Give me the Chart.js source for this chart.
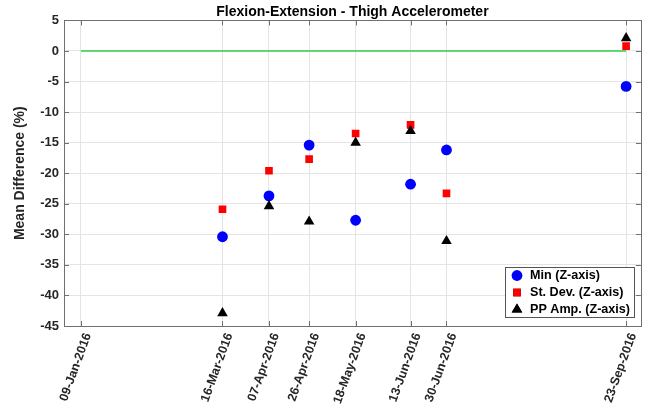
<!DOCTYPE html>
<html>
<head>
<meta charset="utf-8">
<script src="https://cdn.jsdelivr.net/npm/chart.js@4.4.1/dist/chart.umd.min.js"></script>
<style>
  html, body { margin: 0; padding: 0; background: #fff; }
  #wrap { width: 647px; height: 406px; }
</style>
</head>
<body>
<div id="wrap"><canvas id="c" width="647" height="406"></canvas></div>
<script>
// Measurement sessions, as days since 01-Jan-2016
const sessionDays = [75, 97, 116, 138, 164, 181, 266];
// Date ticks on the x axis (day offsets and their labels)
const tickDays = [8, 75, 97, 116, 138, 164, 181, 266];
const tickLabels = ['09-Jan-2016', '16-Mar-2016', '07-Apr-2016', '26-Apr-2016',
                    '18-May-2016', '13-Jun-2016', '30-Jun-2016', '23-Sep-2016'];
// Mean difference (%) per session
const minZ = [-30.4, -23.7, -15.4, -27.7, -21.8, -16.2, -5.8];
const stdZ = [-25.9, -19.6, -17.7, -13.5, -12.1, -23.3, 0.8];
const ppZ  = [-42.9, -25.4, -27.9, -15.0, -13.1, -31.1, 2.1];
// Zero reference line from the baseline date to the last session
const refDays = [8, 266];
const refValues = [0, 0];
const seriesNames = ['Min (Z-axis)', 'St. Dev. (Z-axis)', 'PP Amp. (Z-axis)'];

const FONT = '"Liberation Sans", Arial, Helvetica, sans-serif';
const pts = (xs, ys) => xs.map((d, i) => ({ x: d, y: ys[i] }));

// Box around the axes with inward tick marks on all four sides
const framePlugin = {
  id: 'frame',
  beforeDatasetsDraw(chart) {
    const { ctx, chartArea: a, scales: { x, y } } = chart;
    const L = 5;
    ctx.save();
    ctx.strokeStyle = '#707070';
    ctx.lineWidth = 1;
    ctx.beginPath();
    x.ticks.forEach(t => {
      const px = Math.round(x.getPixelForValue(t.value)) + 0.5;
      ctx.moveTo(px, a.bottom); ctx.lineTo(px, a.bottom - L);
      ctx.moveTo(px, a.top); ctx.lineTo(px, a.top + L);
    });
    y.ticks.forEach(t => {
      const py = Math.round(y.getPixelForValue(t.value)) + 0.5;
      ctx.moveTo(a.left, py); ctx.lineTo(a.left + L, py);
      ctx.moveTo(a.right, py); ctx.lineTo(a.right - L, py);
    });
    ctx.stroke();
    ctx.strokeRect(Math.round(a.left) + 0.5, Math.round(a.top) + 0.5,
                   Math.round(a.right - a.left), Math.round(a.bottom - a.top));
    ctx.restore();
  }
};

// Center the title over the plotting area rather than the whole canvas
const titleCenterPlugin = {
  id: 'titleCenter',
  afterLayout(chart) {
    if (chart.titleBlock) {
      chart.titleBlock.left = chart.chartArea.left;
      chart.titleBlock.right = chart.chartArea.right;
    }
  }
};

// Boxed legend in the lower-right corner of the plotting area
const boxLegendPlugin = {
  id: 'boxLegend',
  afterDraw(chart) {
    const { ctx, chartArea: a } = chart;
    const sets = chart.data.datasets.slice(0, 3);
    ctx.save();
    ctx.font = 'bold 12.6px ' + FONT;
    const textW = Math.max(...sets.map(s => ctx.measureText(s.label).width));
    const rowH = 17, padL = 6, markW = 12, gap = 7, padR = 4;
    const w = padL + markW + gap + textW + padR;
    const h = rowH * sets.length - 1;
    const x0 = Math.round(a.right - 7 - w), y0 = Math.round(a.bottom - 9 - h);
    ctx.fillStyle = '#fff';
    ctx.fillRect(x0, y0, w, h);
    ctx.strokeStyle = '#555';
    ctx.lineWidth = 1;
    ctx.strokeRect(x0 + 0.5, y0 + 0.5, Math.round(w), Math.round(h));
    sets.forEach((s, i) => {
      const cy = y0 + rowH * i + rowH / 2;
      const cx = x0 + padL + markW / 2;
      Chart.helpers.drawPoint(ctx, {
        pointStyle: s.pointStyle, radius: s.pointRadius, rotation: 0, borderWidth: 0
      }, cx, cy);
      ctx.fillStyle = s.backgroundColor;
      ctx.fill();
      ctx.fillStyle = '#000';
      ctx.textBaseline = 'middle';
      ctx.textAlign = 'left';
      ctx.fillText(s.label, x0 + padL + markW + gap, cy + 0.5);
    });
    ctx.restore();
  }
};

new Chart(document.getElementById('c'), {
  type: 'scatter',
  data: {
    datasets: [
      { label: seriesNames[0], data: pts(sessionDays, minZ), pointStyle: 'circle',
        pointRadius: 5.4, backgroundColor: '#0000ff', borderColor: '#0000ff', borderWidth: 0, order: 2 },
      { label: seriesNames[1], data: pts(sessionDays, stdZ), pointStyle: 'rect',
        pointRadius: 5.4, backgroundColor: '#ff0000', borderColor: '#ff0000', borderWidth: 0, order: 1 },
      { label: seriesNames[2], data: pts(sessionDays, ppZ), pointStyle: 'triangle',
        pointRadius: 6.1, backgroundColor: '#000000', borderColor: '#000000', borderWidth: 0, order: 0 },
      { label: 'zero', data: pts(refDays, refValues), showLine: true, pointRadius: 0,
        borderColor: '#33cc4d', borderWidth: 1.6, order: 3 }
    ]
  },
  options: {
    responsive: false,
    animation: false,
    devicePixelRatio: 1,
    layout: { padding: { left: 0, right: 4, top: 0, bottom: 0 } },
    plugins: {
      legend: { display: false },
      tooltip: { enabled: false },
      title: {
        display: true,
        text: 'Flexion-Extension - Thigh Accelerometer',
        color: '#000',
        font: { family: FONT, size: 14, weight: 'bold', lineHeight: 1.1 },
        padding: { top: 4, bottom: 1 }
      }
    },
    scales: {
      x: {
        type: 'linear',
        min: 0,
        max: 273,
        afterBuildTicks: s => { s.ticks = tickDays.map(v => ({ value: v })); },
        afterFit: s => { s.height = 80; },
        ticks: {
          autoSkip: false,
          minRotation: 70,
          maxRotation: 70,
          padding: 5,
          labelOffset: 7,
          color: '#262626',
          font: { family: FONT, size: 12.5, weight: 'bold' },
          callback: (v, i) => tickLabels[i]
        },
        grid: { color: '#e4e4e4', drawTicks: false },
        border: { display: false }
      },
      y: {
        min: -45,
        max: 5,
        afterFit: s => { s.width = 64; },
        ticks: {
          stepSize: 5,
          padding: 5,
          color: '#262626',
          font: { family: FONT, size: 13, weight: 'bold' }
        },
        grid: { color: '#e4e4e4', drawTicks: false },
        border: { display: false },
        title: {
          display: true,
          text: 'Mean Difference (%)',
          color: '#262626',
          font: { family: FONT, size: 14, weight: 'bold' },
          padding: { top: 12, bottom: 0 }
        }
      }
    }
  },
  plugins: [framePlugin, titleCenterPlugin, boxLegendPlugin]
});
</script>
</body>
</html>
